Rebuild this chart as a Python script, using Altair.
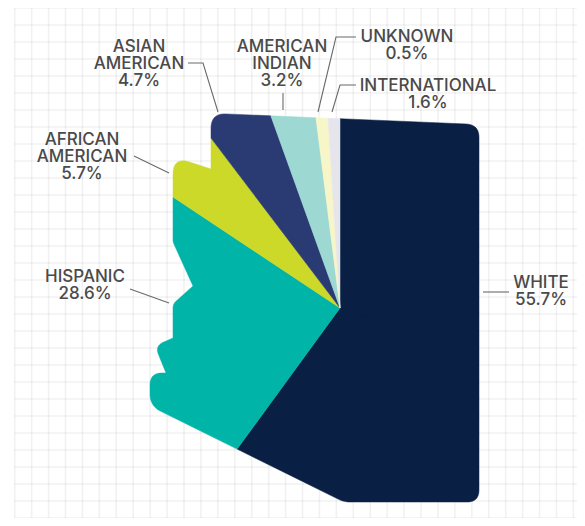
import math
import altair as alt

W, H = 569, 510
FONT = "Inter"

# Published values
labels = ["WHITE", "HISPANIC", "AFRICAN AMERICAN", "ASIAN AMERICAN", "AMERICAN INDIAN", "UNKNOWN", "INTERNATIONAL"]
published = [55.7, 28.6, 5.7, 4.7, 3.2, 0.5, 1.6]
# Wedge sizes as actually drawn in the picture, degrees clockwise from north
drawn_degrees = [216.1, 87.5, 19.2, 17.4, 12.6, 3.6, 3.6]
colors = ["#0a1f44", "#00b5a8", "#cdd928", "#2a3b74", "#9dd8d3", "#f7f6c8", "#e6e5ec"]

pie_center = (340.0, 308.0)
# State silhouette: corner x, corner y, rounding radius
outline_x = [211, 479, 479, 344, 150, 150, 166, 155, 173, 173, 193, 173, 173, 211]
outline_y = [113.3, 124.5, 502, 502, 406, 373, 373, 346, 338, 304, 286, 242, 156.5, 169]
outline_r = [15, 13, 12, 6, 12, 12, 0, 9, 0, 4, 0, 2, 18, 0]

# Text blocks: text, centre x, first baseline y
label_blocks = [
    ("ASIAN\nAMERICAN\n4.7%", 139, 52),
    ("AFRICAN\nAMERICAN\n5.7%", 82, 145),
    ("HISPANIC\n28.6%", 85, 282),
    ("AMERICAN\nINDIAN\n3.2%", 282, 52),
    ("UNKNOWN\n0.5%", 407, 42),
    ("INTERNATIONAL\n1.6%", 428, 91),
    ("WHITE\n55.7%", 541, 288),
]
# Leader lines: list of (x, y) paths
leaders = [
    [(188, 63), (203, 63), (218, 112)],
    [(134, 156), (169, 173)],
    [(130, 289), (169, 303)],
    [(283, 93), (283, 110)],
    [(356, 37), (336, 37), (318, 112)],
    [(356, 85), (340, 85), (332, 112)],
    [(483, 292), (509, 292)],
]
grid_x0, grid_dx = 14.7, 16.93
grid_y0, grid_dy = 8.0, 17.0


def rounded(xs, ys, rs):
    pts, n = [], len(xs)
    for i in range(n):
        p = (xs[i], ys[i]); r = rs[i]
        if r == 0:
            pts.append(p); continue
        a = (xs[i - 1], ys[i - 1]); b = (xs[(i + 1) % n], ys[(i + 1) % n])
        la = math.dist(a, p); lb = math.dist(b, p)
        s = (p[0] + (a[0] - p[0]) * r / la, p[1] + (a[1] - p[1]) * r / la)
        e = (p[0] + (b[0] - p[0]) * r / lb, p[1] + (b[1] - p[1]) * r / lb)
        for k in range(11):
            t = k / 10
            pts.append(((1 - t) ** 2 * s[0] + 2 * t * (1 - t) * p[0] + t * t * e[0],
                        (1 - t) ** 2 * s[1] + 2 * t * (1 - t) * p[1] + t * t * e[1]))
    return pts


def clip(poly, ang, keep_clockwise):
    """Clip to the half-plane clockwise (or counter-clockwise) of a ray at ang."""
    cx, cy = pie_center
    dx, dy = math.sin(math.radians(ang)), -math.cos(math.radians(ang))
    sign = 1 if keep_clockwise else -1
    side = lambda p: sign * (dx * (p[1] - cy) - dy * (p[0] - cx))
    out = []
    for i, p in enumerate(poly):
        q = poly[(i + 1) % len(poly)]
        sp, sq = side(p), side(q)
        if sp >= 0:
            out.append(p)
        if sp * sq < 0:
            t = sp / (sp - sq)
            out.append((p[0] + t * (q[0] - p[0]), p[1] + t * (q[1] - p[1])))
    return out


shape = rounded(outline_x, outline_y, outline_r)
features = []
start = 0.0
for name, deg in zip(labels, drawn_degrees):
    parts = max(1, math.ceil(deg / 120))
    rings = []
    for j in range(parts):
        a0 = start + deg * j / parts
        a1 = start + deg * (j + 1) / parts
        poly = clip(clip(shape, a0, True), a1, False)
        rings.append([[[x, y] for x, y in poly + poly[:1]]])
    features.append({"type": "Feature", "properties": {"name": name},
                     "geometry": {"type": "MultiPolygon", "coordinates": rings}})
    start += deg

x_scale = alt.Scale(domain=[8, 8 + W], range=[0, W], nice=False, zero=False)
y_scale = alt.Scale(domain=[8 + H, 8], range=[H, 0], nice=False, zero=False)
X = lambda f: alt.X(f, type="quantitative", scale=x_scale, axis=None)
Y = lambda f: alt.Y(f, type="quantitative", scale=y_scale, axis=None)

bottom, right = 8.0 + H, 8.0 + W
vgrid = [{"x": grid_x0 + i * grid_dx, "y": grid_y0, "y2": bottom}
         for i in range(int((right - grid_x0) / grid_dx) + 1)]
hgrid = [{"y": grid_y0 + i * grid_dy, "x": grid_x0, "x2": right}
         for i in range(int((bottom - grid_y0) / grid_dy) + 1)]
grid_style = dict(color="#000000", opacity=0.055, strokeWidth=1.6)
grid_v = alt.Chart(alt.Data(values=vgrid)).mark_rule(**grid_style).encode(
    x=X("x"), y=Y("y"), y2=alt.Y2("y2"))
grid_h = alt.Chart(alt.Data(values=hgrid)).mark_rule(**grid_style).encode(
    y=Y("y"), x=X("x"), x2=alt.X2("x2"))

slices = alt.Chart(alt.Data(values=features)).mark_geoshape(strokeWidth=0.5).encode(
    fill=alt.Color("properties.name:N", scale=alt.Scale(domain=labels, range=colors), legend=None),
    stroke=alt.Color("properties.name:N", scale=alt.Scale(domain=labels, range=colors), legend=None),
).project(type="identity", scale=1, translate=[-8, -8])

leader_rows = [{"id": i, "ord": k, "x": p[0], "y": p[1]}
               for i, path in enumerate(leaders) for k, p in enumerate(path)]
lead = alt.Chart(alt.Data(values=leader_rows)).mark_line(color="#6a6a6a", strokeWidth=1.1).encode(
    x=X("x"), y=Y("y"), detail="id:N", order="ord:Q")

text_rows = [{"t": t, "x": x, "y": y} for t, x, y in label_blocks]
text = alt.Chart(alt.Data(values=text_rows)).mark_text(
    font=FONT, fontSize=17, fontWeight=500, color="#4a4a4a", align="center", baseline="alphabetic",
    lineBreak="\n", lineHeight=17
).encode(x=X("x"), y=Y("y"), text="t:N")

chart = alt.layer(grid_v, grid_h, slices, lead, text).properties(
    width=W, height=H, padding=0, background="#ffffff", autosize=alt.AutoSizeParams(type="none")
).configure_view(strokeWidth=0)

chart.save("out.html", embed_options={"renderer": "svg", "actions": False})
